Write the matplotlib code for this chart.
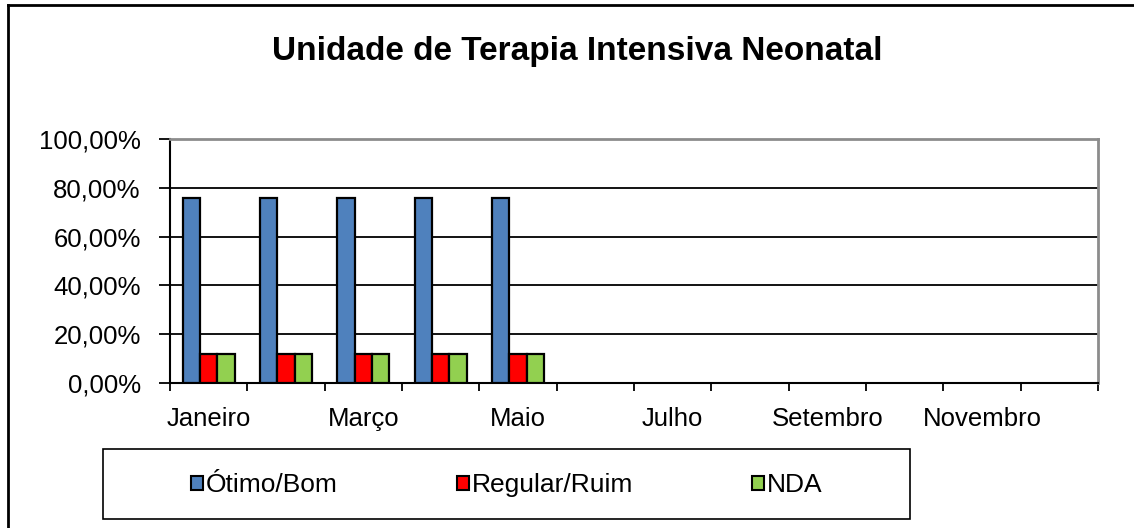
import numpy as np
import matplotlib
matplotlib.use('Agg')
from matplotlib import pyplot as plt
from matplotlib.patches import Patch, Rectangle
from matplotlib.lines import Line2D
from matplotlib.ticker import FuncFormatter

plt.rcParams['font.family'] = ['Liberation Sans', 'DejaVu Sans']

# data
months = ['Janeiro', 'Fevereiro', 'Março', 'Abril', 'Maio', 'Junho',
          'Julho', 'Agosto', 'Setembro', 'Outubro', 'Novembro', 'Dezembro']
otimo_bom = [76.0, 76.0, 76.0, 76.0, 76.0]
regular_ruim = [12.0, 12.0, 12.0, 12.0, 12.0]
nda = [12.0, 12.0, 12.0, 12.0, 12.0]
series_names = ['Ótimo/Bom', 'Regular/Ruim', 'NDA']
colors = ['#4F81BD', '#FF0000', '#92D050']

W, H = 1134, 528
fig = plt.figure(figsize=(W / 100, H / 100), dpi=100)
ax = fig.add_axes([170 / W, 1 - 383 / H, 928 / W, 244 / H])

bw = 0.224
for k, vals in enumerate([otimo_bom, regular_ruim, nda]):
    x = np.arange(len(vals)) + 0.5 + (k - 1) * bw
    ax.bar(x, vals, width=bw, color=colors[k], edgecolor='black', linewidth=1.6, zorder=3)

ax.set_xlim(0, len(months))
ax.set_ylim(0, 100)

# y axis
ax.set_yticks(np.arange(0, 101, 20))
ax.yaxis.set_major_formatter(FuncFormatter(lambda v, p: f'{v:.2f}'.replace('.', ',') + '%'))
ax.tick_params(axis='y', length=8, width=1.3, pad=13, labelsize=18.5, color='black')
ax.grid(axis='y', color='black', linewidth=1.3, zorder=0)

# x axis: ticks at category boundaries, labels every other month
ax.set_xticks(np.arange(0, len(months) + 1))
ax.set_xticklabels([])
ax.set_xticks(np.arange(0, len(months), 2) + 0.5, minor=True)
ax.set_xticklabels(months[::2], minor=True)
ax.tick_params(axis='x', which='major', length=6, width=1.3, direction='out')
ax.tick_params(axis='x', which='minor', length=0, pad=17, labelsize=18.5)

for s in ['left', 'bottom']:
    ax.spines[s].set_color('black')
    ax.spines[s].set_linewidth(1.5)
for s in ['top', 'right']:
    ax.spines[s].set_color('#8c8c8c')
    ax.spines[s].set_linewidth(2)

fig.text(0.509, 0.903, 'Unidade de Terapia Intensiva Neonatal', ha='center', va='center',
         fontsize=24, fontweight='bold')

# legend
handles = [Patch(facecolor=c, edgecolor='black', linewidth=1.5) for c in colors]
fig.legend(handles, series_names, loc='center', bbox_to_anchor=(0.447, 1 - 485 / H),
           ncol=3, frameon=False, fontsize=19, handlelength=0.45, handleheight=0.45,
           handletextpad=0.12, columnspacing=4.5)
fig.patches.append(Rectangle((103 / W, 1 - 519 / H), 807 / W, 70 / H, transform=fig.transFigure,
                             fill=False, edgecolor='black', linewidth=1.2))

# outer chart border (left and top visible)
fig.add_artist(Line2D([8 / W, 8 / W], [0, 1 - 5 / H], transform=fig.transFigure, color='black', linewidth=2))
fig.add_artist(Line2D([8 / W, 1], [1 - 5 / H, 1 - 5 / H], transform=fig.transFigure, color='black', linewidth=2))

plt.savefig('out.png', dpi=100)
